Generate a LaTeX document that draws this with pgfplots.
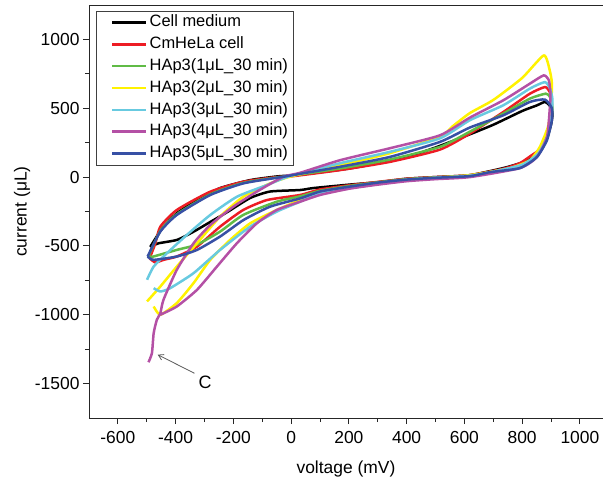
\documentclass[border=0pt]{standalone}
\usepackage{fontspec}
\setmainfont{Liberation Sans}
\usepackage{pgfplots}
\pgfplotsset{compat=1.18}
\usetikzlibrary{arrows.meta}
\definecolor{cred}{RGB}{237,28,36}
\definecolor{cgreen}{RGB}{96,187,70}
\definecolor{cyellow}{RGB}{255,242,0}
\definecolor{ccyan}{RGB}{104,202,224}
\definecolor{cpurple}{RGB}{180,80,165}
\definecolor{cblue}{RGB}{55,80,165}
\begin{document}
\begin{tikzpicture}
\begin{axis}[
  scale only axis, width=514bp, height=413bp,
  xmin=-700, xmax=1080, ymin=-1750, ymax=1250,
  axis x line=box, axis y line=left,
  every non boxed y axis/.style={},
  axis line style={line width=0.9bp, black!85, -},
  xtick={-600,-400,...,1000}, ytick={-1500,-1000,...,1000},
  minor x tick num=1, minor y tick num=1,
  xtick pos=bottom, ytick pos=left,
  tick align=outside,
  major tick length=6bp, minor tick length=4bp,
  tick style={line width=0.9bp, black!85},
  /pgf/number format/assume math mode=true,
  /pgf/number format/1000 sep={},
  ticklabel style={font=\fontsize{17.5}{19}\selectfont},
  xticklabel style={yshift=-4bp},
  xlabel={voltage (mV)}, ylabel={current (μL)},
  label style={font=\fontsize{17.5}{19}\selectfont},
  xlabel style={at={(axis description cs:0.5,-0.124)}, anchor=center},
  ylabel style={at={(axis description cs:-0.130,0.5)}, anchor=center, rotate=0},
  legend image code/.code={\path (0bp,0bp); \draw[#1, line width=2.5bp] (12bp,0bp) -- (46bp,0bp);},
  legend cell align=left,
  legend style={at={(0.0136,0.986)}, anchor=north west, draw=black!75,
    font=\fontsize{16.5}{18}\selectfont, inner xsep=3bp, inner ysep=1.5bp, row sep=1.5bp,
    nodes={inner sep=2bp, text height=12.5bp, text depth=3.8bp}},
  every axis plot/.append style={line width=2.5bp, line join=round, smooth, tension=0.35},
]
\addplot[black] coordinates {
(-488,-507) (-465,-430) (-443,-362) (-395,-261) (-325,-167) (-246,-80) (-142,-22) (-48,5) (0,12) (100,35) (200,62) (300,100) (400,145) (500,215) (600,295) (700,380) (800,480) (850,520) (879,546) (895,520) (905,460) (900,380) (885,280) (860,190) (827,130) (792,100) (734,65) (619,14) (500,0) (400,-12) (308,-36) (200,-55) (76,-80) (31,-94) (-73,-105) (-142,-152) (-221,-254) (-280,-326) (-339,-398) (-395,-456) (-459,-481) (-488,-507)};
\addlegendentry{Cell medium}
\addplot[cred] coordinates {
(-490,-590) (-470,-480) (-453,-360) (-396,-239) (-280,-106) (-166,-34) (-50,0) (0,5) (170,51) (343,111) (516,200) (619,316) (735,473) (827,606) (879,654) (895,620) (903,540) (900,420) (885,290) (860,200) (827,150) (792,101) (734,60) (619,14) (500,0) (400,-12) (300,-35) (200,-60) (100,-90) (31,-130) (-84,-167) (-166,-239) (-246,-360) (-326,-505) (-396,-577) (-440,-600) (-470,-620) (-490,-590)};
\addlegendentry{CmHeLa cell}
\addplot[cgreen] coordinates {
(-495,-580) (-453,-390) (-396,-270) (-280,-125) (-166,-42) (-50,-3) (0,10) (170,63) (343,128) (516,220) (619,330) (735,462) (827,570) (882,606) (897,580) (905,500) (900,400) (886,280) (851,150) (792,70) (689,36) (619,10) (500,-2) (400,-15) (300,-38) (200,-65) (100,-100) (31,-140) (-50,-179) (-166,-275) (-246,-396) (-326,-490) (-396,-529) (-477,-577) (-495,-580)};
\addlegendentry{HAp3(1μL\_30 min)}
\addplot[cyellow] coordinates {
(-499,-903) (-453,-795) (-396,-650) (-326,-481) (-246,-287) (-166,-143) (-73,-46) (0,5) (170,87) (343,174) (516,295) (560,370) (619,465) (700,560) (800,720) (875,884) (895,780) (903,680) (900,500) (889,362) (861,218) (827,123) (758,65) (619,14) (500,-5) (400,-20) (300,-45) (200,-75) (100,-115) (31,-167) (-50,-239) (-142,-336) (-211,-456) (-280,-601) (-338,-770) (-396,-915) (-453,-1000) (-476,-940)};
\addlegendentry{HAp3(2μL\_30 min)}
\addplot[ccyan] coordinates {
(-499,-746) (-476,-650) (-430,-553) (-361,-420) (-280,-275) (-188,-143) (-84,-58) (0,10) (170,101) (343,184) (516,282) (619,413) (735,522) (827,643) (879,690) (897,640) (905,560) (900,420) (886,290) (855,170) (800,90) (700,40) (619,10) (500,-5) (400,-20) (300,-45) (200,-75) (100,-115) (31,-179) (-50,-251) (-142,-360) (-246,-529) (-338,-698) (-419,-807) (-453,-831) (-476,-807)};
\addlegendentry{HAp3(3μL\_30 min)}
\addplot[cpurple] coordinates {
(-494,-1345) (-482,-1278) (-476,-1133) (-465,-1036) (-453,-990) (-442,-891) (-396,-674) (-338,-481) (-280,-348) (-200,-215) (-119,-106) (-27,2) (31,31) (170,123) (343,210) (516,304) (619,432) (735,558) (827,679) (875,739) (893,700) (898,600) (896,507) (886,290) (851,145) (792,65) (619,0) (500,-15) (400,-30) (300,-55) (200,-85) (100,-130) (31,-179) (-50,-239) (-119,-336) (-188,-481) (-257,-650) (-326,-819) (-396,-940) (-453,-1000)};
\addlegendentry{HAp3(4μL\_30 min)}
\addplot[cblue] coordinates {
(-497,-577) (-453,-396) (-396,-275) (-280,-130) (-166,-46) (-50,-5) (0,12) (170,75) (343,147) (516,256) (619,360) (735,449) (827,546) (879,563) (903,500) (903,413) (886,268) (851,145) (792,65) (689,36) (619,7) (500,-5) (400,-18) (300,-40) (200,-70) (100,-105) (31,-155) (-73,-215) (-165,-312) (-246,-432) (-326,-529) (-396,-577) (-476,-601) (-497,-577)};
\addlegendentry{HAp3(5μL\_30 min)}
\draw[black!65, line width=0.8bp, -{Straight Barb[length=5bp,width=6bp]}] (axis cs:-335,-1425) -- (axis cs:-462,-1290);
\node[font=\fontsize{18}{20}\selectfont, anchor=center] at (axis cs:-298,-1490) {C};
\end{axis}
\pgfresetboundingbox
\path[use as bounding box] ([xshift=-89bp,yshift=-70bp]current axis.south west) rectangle ([yshift=5bp]current axis.north east);
\end{tikzpicture}
\end{document}
